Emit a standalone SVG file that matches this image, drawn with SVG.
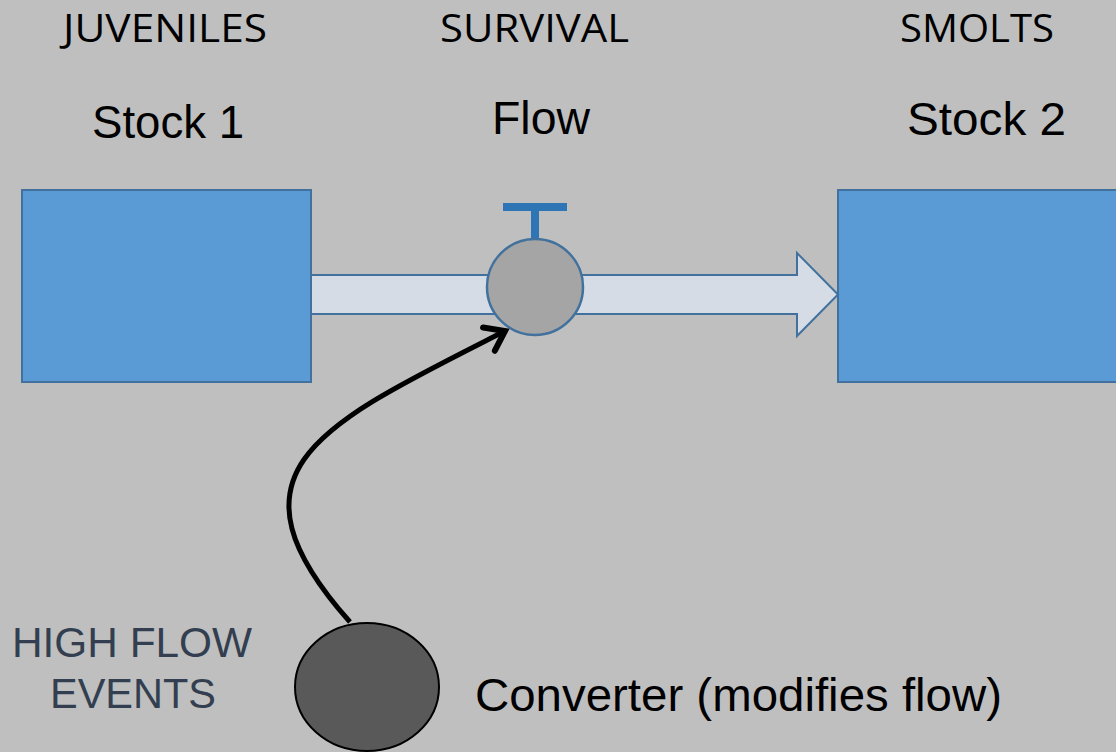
<svg xmlns="http://www.w3.org/2000/svg" width="1116" height="752" viewBox="0 0 1116 752">
<style>
.hdr{font-family:"Open Sans","Liberation Sans",sans-serif;font-size:39px;fill:#000}
.lbl{font-family:"Liberation Sans",Arial,sans-serif;font-size:47px;fill:#000}
.ev{font-family:"Liberation Sans",Arial,sans-serif;font-size:42px;fill:#333F50}
.stock{fill:#5B9BD5;stroke:#41719C;stroke-width:2}
</style>
<defs>
<marker id="ah" markerUnits="userSpaceOnUse" markerWidth="40" markerHeight="40" refX="28" refY="20" orient="auto" viewBox="0 0 40 40">
<path d="M10,7 L28,20 L10,33" fill="none" stroke="#000" stroke-width="6" stroke-linecap="round" stroke-linejoin="miter"/>
</marker>
</defs>
<rect width="1116" height="752" fill="#BFBFBF"/>
<g id="labels">
<text class="hdr" x="63" y="42" textLength="204" lengthAdjust="spacingAndGlyphs">JUVENILES</text>
<text class="hdr" x="440" y="42" textLength="189" lengthAdjust="spacingAndGlyphs">SURVIVAL</text>
<text class="hdr" x="900" y="42" textLength="154" lengthAdjust="spacingAndGlyphs">SMOLTS</text>
</g>
<g id="stock1">
<rect class="stock" x="22" y="190" width="289" height="192"/>
<text class="lbl" x="92" y="138" textLength="152" lengthAdjust="spacingAndGlyphs">Stock 1</text>
</g>
<g id="stock2">
<rect class="stock" x="838" y="190" width="290" height="192"/>
<text class="lbl" x="907" y="135" textLength="159" lengthAdjust="spacingAndGlyphs">Stock 2</text>
</g>
<g id="flow">
<path d="M311,275 L797,275 L797,253 L838,294.5 L797,336 L797,314 L311,314 Z" fill="#D6DCE5" stroke="#41719C" stroke-width="2"/>
<rect x="503" y="203" width="64" height="8" fill="#2E75B6"/>
<rect x="531" y="211" width="8" height="28" fill="#2E75B6"/>
<circle cx="535" cy="287" r="48" fill="#A5A5A5" stroke="#41719C" stroke-width="2.5"/>
<text class="lbl" x="492" y="134" textLength="98" lengthAdjust="spacingAndGlyphs">Flow</text>
</g>
<g id="converter">
<ellipse cx="367" cy="687" rx="72" ry="64" fill="#595959" stroke="#000" stroke-width="2"/>
<text class="ev" x="12" y="657" textLength="240" lengthAdjust="spacingAndGlyphs">HIGH FLOW</text>
<text class="ev" x="50" y="708" textLength="166" lengthAdjust="spacingAndGlyphs">EVENTS</text>
<text class="lbl" x="475" y="711" textLength="527" lengthAdjust="spacingAndGlyphs">Converter (modifies flow)</text>
</g>
<g id="connectors">
<path d="M350,622 C215,470 320,425 505,331" fill="none" stroke="#000" stroke-width="5" marker-end="url(#ah)"/>
</g>
</svg>
